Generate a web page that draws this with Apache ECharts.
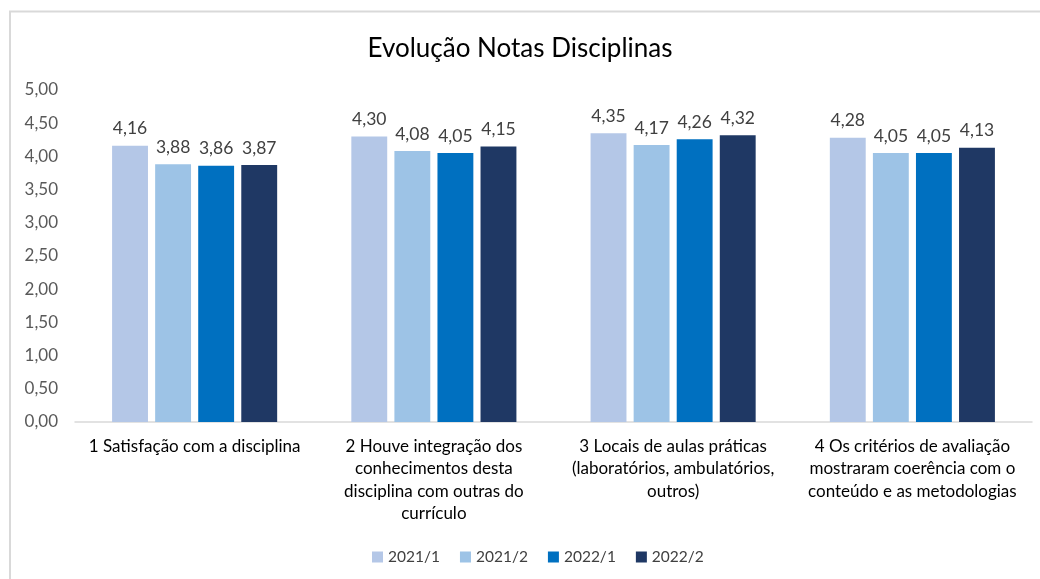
<!DOCTYPE html>
<html>
<head>
<meta charset="utf-8">
<script src="https://cdn.jsdelivr.net/npm/echarts@6/dist/echarts.min.js"></script>
<style>
  html, body { margin: 0; padding: 0; background: #fff; }
  #chart { width: 1040px; height: 579px; }
</style>
</head>
<body>
<div id="chart"></div>
<script>
const categories = [
    '1 Satisfação com a disciplina',
    '2 Houve integração dos\nconhecimentos desta\ndisciplina com outras do\ncurrículo',
    '3 Locais de aulas práticas\n(laboratórios, ambulatórios,\noutros)',
    '4 Os critérios de avaliação\nmostraram coerência com o\nconteúdo e as metodologias'
];
const semesters = ['2021/1', '2021/2', '2022/1', '2022/2'];
const s2021_1 = [4.16, 4.30, 4.35, 4.28];
const s2021_2 = [3.88, 4.08, 4.17, 4.05];
const s2022_1 = [3.86, 4.05, 4.26, 4.05];
const s2022_2 = [3.87, 4.15, 4.32, 4.13];
const colors = ['#B4C7E7', '#9DC3E6', '#0070C0', '#1F3864'];

const font = 'Lato, "Open Sans", sans-serif';
const fmt = (v) => v.toFixed(2).replace('.', ',');

const chart = echarts.init(document.getElementById('chart'));

const seriesData = [s2021_1, s2021_2, s2022_1, s2022_2];

chart.setOption({
    animation: false,
    color: colors,
    textStyle: { fontFamily: font },
    graphic: [{
        type: 'rect',
        shape: { x: 10, y: 11.5, width: 1100, height: 700 },
        style: { fill: 'none', stroke: '#d9d9d9', lineWidth: 2 },
        silent: true
    }],
    title: {
        text: 'Evolução Notas Disciplinas',
        left: 'center',
        top: 31,
        textStyle: { fontFamily: font, fontSize: 26, fontWeight: 'normal', color: '#000' }
    },
    legend: {
        data: semesters,
        bottom: 9,
        left: 367,
        itemWidth: 11,
        itemHeight: 11,
        itemGap: 20,
        icon: 'rect',
        textStyle: { fontFamily: font, fontSize: 15.5, color: '#404040' }
    },
    grid: { left: 75, right: 8, top: 90, bottom: 157 },
    xAxis: {
        type: 'category',
        data: categories,
        axisLine: { lineStyle: { color: '#d9d9d9', width: 1.5 } },
        axisTick: { show: false },
        axisLabel: {
            interval: 0,
            fontFamily: font,
            fontSize: 17,
            color: '#000',
            lineHeight: 22.5,
            margin: 13,
            align: 'center'
        }
    },
    yAxis: {
        type: 'value',
        min: 0,
        max: 5,
        interval: 0.5,
        axisLine: { show: false },
        axisTick: { show: false },
        splitLine: { show: false },
        axisLabel: {
            fontFamily: font,
            fontSize: 17,
            color: '#595959',
            margin: 17,
            formatter: fmt
        }
    },
    series: seriesData.map((d, i) => ({
        name: semesters[i],
        type: 'bar',
        data: d,
        barGap: '20%',
        barCategoryGap: '31%',
        label: {
            show: true,
            position: 'top',
            distance: 8,
            fontFamily: font,
            fontSize: 17.5,
            color: '#404040',
            formatter: (p) => fmt(p.value)
        }
    }))
});
</script>
</body>
</html>
